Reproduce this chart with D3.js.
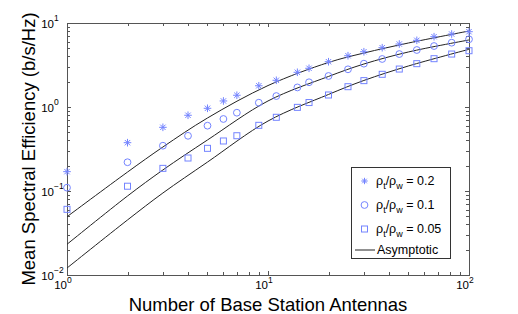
<!DOCTYPE html>
<html>
<head>
<meta charset="utf-8">
<title>Mean Spectral Efficiency vs Base Station Antennas</title>
<style>
  body { margin: 0; background: #fff; }
  text { font-family: "Liberation Sans", Arial, sans-serif; fill: #000; }
</style>
</head>
<body>
<div id="chart"></div>
<script src="https://cdn.jsdelivr.net/npm/d3@7/dist/d3.min.js"></script>
<script>
// simulated points (number of antennas)
const antennas = [1, 2, 3, 4, 5, 6, 7, 9, 11, 14, 16, 20, 25, 30, 37, 45, 55, 67, 82, 100];
const se02  = [0.170, 0.376, 0.573, 0.797, 0.965, 1.18, 1.38, 1.79, 2.08, 2.59, 2.89, 3.46, 4.08, 4.55, 5.08, 5.62, 6.22, 6.87, 7.39, 7.88];
const se01  = [0.1095, 0.220, 0.346, 0.454, 0.599, 0.720, 0.855, 1.125, 1.35, 1.71, 1.97, 2.34, 2.81, 3.28, 3.73, 4.27, 4.77, 5.32, 5.83, 6.40];
const se005 = [0.0605, 0.114, 0.186, 0.247, 0.322, 0.394, 0.455, 0.605, 0.754, 0.99, 1.13, 1.39, 1.745, 2.06, 2.45, 2.83, 3.28, 3.76, 4.27, 4.68];

// asymptotic curves, read at a few antenna counts
const curveM   = [1, 2, 3, 5, 10, 20, 30, 50, 100];
const asym02  = [0.0494, 0.168, 0.334, 0.740, 1.80, 3.39, 4.39, 5.78, 8.03];
const asym01  = [0.0232, 0.0872, 0.178, 0.405, 1.18, 2.31, 3.25, 4.52, 6.28];
const asym005 = [0.0121, 0.0452, 0.0947, 0.221, 0.681, 1.41, 2.07, 3.08, 4.86];

const xMajor = [1, 10, 100];
const yMajor = [0.01, 0.1, 1, 10];
const legendLabels = ["0.2", "0.1", "0.05"];

const W = 518, H = 314;
const plot = { left: 67, right: 469, top: 23, bottom: 275 };
const blue = "#7484ff";

const x = d3.scaleLog().domain([1, 100]).range([plot.left, plot.right]);
const y = d3.scaleLog().domain([0.01, 10]).range([plot.bottom, plot.top]);

const svg = d3.select("#chart").append("svg")
  .attr("width", W).attr("height", H)
  .style("background", "#fff");

const isMajor = v => Math.abs(Math.log10(v) - Math.round(Math.log10(v))) < 1e-9;

// ticks, pointing inward on all four sides
const tickG = svg.append("g").attr("stroke", "#555").attr("stroke-width", 1).attr("shape-rendering", "crispEdges");
x.ticks().forEach(v => {
  const len = isMajor(v) ? 4 : 3, px = Math.round(x(v)) + 0.5;
  tickG.append("line").attr("x1", px).attr("x2", px).attr("y1", plot.bottom).attr("y2", plot.bottom - len);
  tickG.append("line").attr("x1", px).attr("x2", px).attr("y1", plot.top).attr("y2", plot.top + len);
});
y.ticks().forEach(v => {
  const len = isMajor(v) ? 4 : 3, py = Math.round(y(v)) + 0.5;
  tickG.append("line").attr("y1", py).attr("y2", py).attr("x1", plot.left).attr("x2", plot.left + len);
  tickG.append("line").attr("y1", py).attr("y2", py).attr("x1", plot.right).attr("x2", plot.right - len);
});

svg.append("rect")
  .attr("x", plot.left + 0.5).attr("y", plot.top + 0.5)
  .attr("width", plot.right - plot.left).attr("height", plot.bottom - plot.top)
  .attr("fill", "none").attr("stroke", "#555").attr("shape-rendering", "crispEdges");

// tick labels as 10^n
xMajor.forEach(v => {
  const px = x(v), e = Math.round(Math.log10(v));
  svg.append("text").attr("x", px).attr("y", 289).attr("text-anchor", "end")
    .style("font-size", "11.5px").text("10");
  svg.append("text").attr("x", px).attr("y", 282.5).attr("text-anchor", "start")
    .style("font-size", "8.5px").text(String(e).replace("-", "\u2212"));
});
yMajor.forEach(v => {
  const py = y(v), e = Math.round(Math.log10(v));
  svg.append("text").attr("x", 54).attr("y", py + 5).attr("text-anchor", "end")
    .style("font-size", "11.5px").text("10");
  svg.append("text").attr("x", 54).attr("y", py - 2).attr("text-anchor", "start")
    .style("font-size", "8.5px").text(String(e).replace("-", "\u2212"));
});

// axis titles
svg.append("text").attr("x", (plot.left + plot.right) / 2).attr("y", 311)
  .attr("text-anchor", "middle").style("font-size", "18.5px")
  .text("Number of Base Station Antennas");
svg.append("text")
  .attr("transform", `translate(35,${(plot.top + plot.bottom) / 2}) rotate(-90)`)
  .attr("text-anchor", "middle").style("font-size", "18.5px")
  .text("Mean Spectral Efficiency (b/s/Hz)");

// asymptotic lines
const line = d3.line()
  .x(d => x(d[0])).y(d => y(d[1]))
  .curve(d3.curveCatmullRom.alpha(0.5));
[asym02, asym01, asym005].forEach(s => {
  svg.append("path")
    .datum(curveM.map((m, i) => [m, s[i]]))
    .attr("d", line)
    .attr("fill", "none").attr("stroke", "#222").attr("stroke-width", 1);
});

// marker shapes
function star(g, cx, cy, r) {
  const d = r * Math.SQRT1_2;
  g.append("path")
    .attr("d", `M${cx - r},${cy}L${cx + r},${cy}M${cx},${cy - r}L${cx},${cy + r}` +
               `M${cx - d},${cy - d}L${cx + d},${cy + d}M${cx - d},${cy + d}L${cx + d},${cy - d}`)
    .attr("stroke", blue).attr("stroke-width", 1).attr("fill", "none");
}
function circle(g, cx, cy) {
  g.append("circle").attr("cx", cx).attr("cy", cy).attr("r", 3.4)
    .attr("fill", "none").attr("stroke", blue).attr("stroke-width", 1);
}
function square(g, cx, cy) {
  g.append("rect").attr("x", cx - 3).attr("y", cy - 3).attr("width", 6).attr("height", 6)
    .attr("fill", "none").attr("stroke", blue).attr("stroke-width", 1);
}

const marks = svg.append("g");
antennas.forEach((m, i) => {
  star(marks, x(m), y(se02[i]), 3.8);
  circle(marks, x(m), y(se01[i]));
  square(marks, x(m), y(se005[i]));
});

// legend
const lg = svg.append("g");
lg.append("rect").attr("x", 351.5).attr("y", 167.5).attr("width", 99).attr("height", 91)
  .attr("fill", "#fff").attr("stroke", "#333").attr("shape-rendering", "crispEdges");
const rowY = [181, 205, 229];
const drawers = [(g, cx, cy) => star(g, cx, cy, 3.2), circle, square];
legendLabels.forEach((lab, i) => {
  drawers[i](lg, 364.5, rowY[i]);
  const t = lg.append("text").attr("x", 376).attr("y", rowY[i] + 4).style("font-size", "12.5px");
  t.append("tspan").text("\u03c1");
  t.append("tspan").attr("dy", 4).style("font-size", "9px").text("t");
  t.append("tspan").attr("dy", -4).text("/\u03c1");
  t.append("tspan").attr("dy", 4).style("font-size", "9px").text("w");
  t.append("tspan").attr("dy", -4).text(" = " + lab);
});
lg.append("line").attr("x1", 355).attr("x2", 375).attr("y1", 250).attr("y2", 250)
  .attr("stroke", "#222");
lg.append("text").attr("x", 377).attr("y", 254).style("font-size", "12.5px").text("Asymptotic");
</script>
</body>
</html>
